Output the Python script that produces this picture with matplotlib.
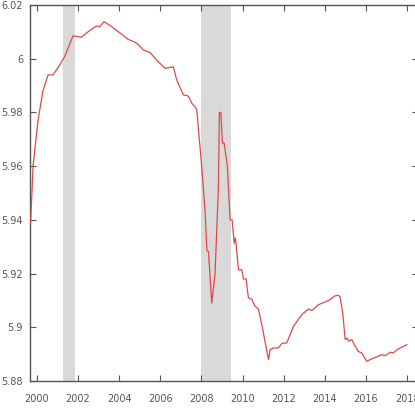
import matplotlib
matplotlib.use('Agg')
import matplotlib.pyplot as plt
from matplotlib.ticker import FuncFormatter

# series (decimal year, value)
years = [1999.69, 1999.81, 2000.05, 2000.29, 2000.54, 2000.78, 2001.02, 2001.35, 2001.75,
         2002.16, 2002.48, 2002.89, 2003.05, 2003.26, 2003.62, 2004.02, 2004.43, 2004.69,
         2004.85, 2005.17, 2005.50, 2005.82, 2006.23, 2006.63, 2006.80, 2007.12, 2007.36,
         2007.53, 2007.69, 2007.77, 2008.01, 2008.18, 2008.26, 2008.34, 2008.50, 2008.66,
         2008.82, 2008.87, 2008.94, 2009.02, 2009.10, 2009.26, 2009.39, 2009.49, 2009.59,
         2009.65, 2009.80, 2009.96, 2010.04, 2010.17, 2010.28, 2010.45, 2010.61, 2010.77,
         2011.01, 2011.18, 2011.26, 2011.34, 2011.50, 2011.74, 2011.91, 2012.15, 2012.47,
         2012.88, 2013.20, 2013.37, 2013.69, 2014.18, 2014.50, 2014.66, 2014.74, 2014.87,
         2014.99, 2015.07, 2015.15, 2015.31, 2015.47, 2015.63, 2015.80, 2016.04, 2016.20,
         2016.53, 2016.77, 2016.93, 2017.18, 2017.33, 2017.58, 2017.99]
values = [5.939, 5.960, 5.977, 5.988, 5.994, 5.994, 5.9966, 6.0008, 6.0085,
          6.0080, 6.0100, 6.0122, 6.0119, 6.0138, 6.0120, 6.0097, 6.0072, 6.0064,
          6.0058, 6.0033, 6.0023, 5.9995, 5.9964, 5.9970, 5.9920, 5.9865, 5.9861,
          5.9834, 5.9821, 5.9810, 5.9600, 5.9426, 5.9286, 5.9282, 5.9090, 5.9200,
          5.9510, 5.9800, 5.9800, 5.9686, 5.9686, 5.9600, 5.9400, 5.9400, 5.9313,
          5.9333, 5.9214, 5.9214, 5.9180, 5.9180, 5.9110, 5.9104, 5.9078, 5.9068,
          5.8980, 5.8910, 5.8880, 5.8917, 5.8923, 5.8923, 5.8940, 5.8942, 5.9003,
          5.9047, 5.9068, 5.9063, 5.9084, 5.9100, 5.9117, 5.9119, 5.9113, 5.9053,
          5.8954, 5.8960, 5.8948, 5.8954, 5.8930, 5.8910, 5.8904, 5.8873, 5.8880,
          5.8890, 5.8898, 5.8894, 5.8907, 5.8905, 5.8920, 5.8935]

# recession periods
recessions = [(2001.28, 2001.85), (2008.0, 2009.42)]

xticks = [2000, 2002, 2004, 2006, 2008, 2010, 2012, 2014, 2016, 2018]
yticks = [5.88, 5.9, 5.92, 5.94, 5.96, 5.98, 6.0, 6.02]

fig = plt.figure(figsize=(4.15, 4.08), dpi=100)
ax = fig.add_axes([30 / 415, 27 / 408, 388 / 415, 376 / 408])

for start, end in recessions:
    ax.axvspan(start, end, color='#d9d9d9', lw=0, zorder=1)

ax.plot(years, values, color='#e04848', lw=0.9, zorder=3)

ax.set_xlim(1999.66, 2018.53)
ax.set_ylim(5.88, 6.02)
ax.set_xticks(xticks)
ax.set_yticks(yticks)
ax.yaxis.set_major_formatter(FuncFormatter(lambda v, p: '%g' % round(v, 2)))

ax.tick_params(direction='in', length=4, width=0.8, colors='#555555',
               labelsize=7, top=True, right=True, labelcolor='#555555')
ax.tick_params(axis='x', pad=9)
ax.tick_params(axis='y', pad=5)
for s in ax.spines.values():
    s.set_color('#555555')
    s.set_linewidth(1.0)

fig.savefig('out.png', dpi=100)
